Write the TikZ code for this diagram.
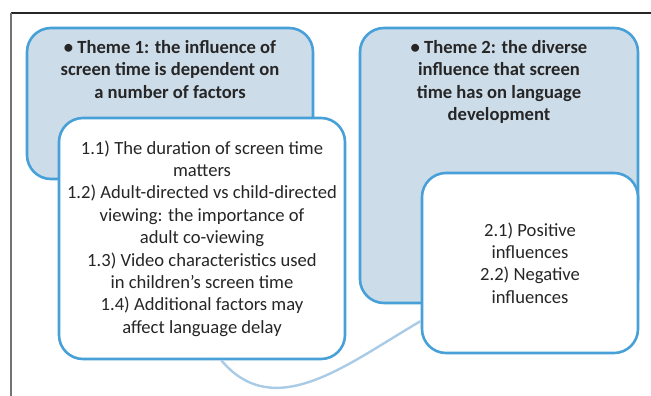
\documentclass[tikz,border=0pt]{standalone}
\usepackage{fontspec}
\setmainfont{Carlito}
\usepackage{tikz}
\usetikzlibrary{positioning}
\definecolor{themeblue}{RGB}{72, 160, 216}
\definecolor{themefill}{RGB}{205, 220, 233}
\definecolor{linkblue}{RGB}{170, 203, 230}
\definecolor{textgray}{RGB}{38, 38, 38}

\begin{document}
\begin{tikzpicture}[x=1pt,y=-1pt,
    themebox/.style={draw=themeblue,line width=2.6pt,fill=themefill,rounded corners=24pt},
    subbox/.style={draw=themeblue,line width=2.6pt,fill=white,rounded corners=24pt,
        text=textgray,align=center,font=\fontsize{18.6}{22.4}\selectfont},
    titletext/.style={text=textgray,align=center,font=\fontsize{18.6}{22.6}\selectfont\bfseries}]
    \useasboundingbox (0,0) rectangle (651,396);

    % Page frame
    \draw[line width=1.3pt,black!85] (11,13) -- (651,13);
    \draw[line width=1.3pt,black!55] (11,13) -- (11,396);

    % Theme 1 box and its title
    \node[themebox,minimum width=286pt,minimum height=151pt] (theme1) at (170,103.5) {};
    \node[titletext,anchor=north] (title1) at (170,36.5)
        {• Theme 1: the influence of\\screen time is dependent on\\a number of factors};

    % Theme 2 box and its title
    \node[themebox,minimum width=278pt,minimum height=275pt] (theme2) at (499,165.5) {};
    \node[titletext,anchor=north] (title2) at (499,36.5)
        {• Theme 2: the diverse\\influence that screen\\time has on language\\development};

    % Subthemes
    \node[subbox,minimum width=286pt,minimum height=241pt] (sub1) at (202,238.5)
        {1.1) The duration of screen time\\matters\\1.2) Adult-directed vs child-directed\\viewing: the importance of\\adult co-viewing\\1.3) Video characteristics used\\in children’s screen time\\1.4) Additional factors may\\affect language delay};
    \node[subbox,minimum width=216pt,minimum height=180pt] (sub2) at (530,263)
        {2.1) Positive\\influences\\2.2) Negative\\influences};

    % Link between the two subtheme boxes
    \draw[linkblue,line width=2.4pt] (sub1.-81) to[out=-50,in=-150,looseness=1.05] (sub2.-152);
\end{tikzpicture}
\end{document}
